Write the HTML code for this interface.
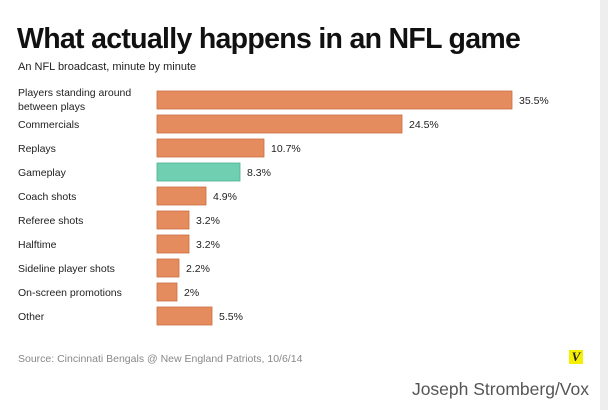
<!DOCTYPE html>
<html><head><meta charset="utf-8"><style>
body{margin:0;width:608px;height:410px;background:#fff;overflow:hidden;font-family:"Liberation Sans",sans-serif;position:relative}
.t{position:absolute;white-space:nowrap}
</style></head><body>
<div style="position:absolute;left:600px;top:0;width:8px;height:410px;background:#eee"></div>
<div class="t" style="left:17px;top:23px;font-size:28.5px;font-weight:900;letter-spacing:-0.7px;color:#111">What actually happens in an NFL game</div>
<div class="t" style="left:18px;top:61px;font-size:11px;color:#222">An NFL broadcast, minute by minute</div>
<svg id="c" width="608" height="410" style="position:absolute;left:0;top:0"></svg>
<div class="t" style="left:18px;top:353px;font-size:10.5px;color:#888">Source: Cincinnati Bengals @ New England Patriots, 10/6/14</div>
<div class="t" style="left:569px;top:350px;width:14px;height:14px;background:#f4f000;color:#222;font:italic bold 13px 'Liberation Serif',serif;text-align:center;line-height:14px">V</div>
<div class="t" style="right:19px;top:379px;font-size:17.5px;color:#555">Joseph Stromberg/Vox</div>
<script>
const categories=["Players standing around|between plays","Commercials","Replays","Gameplay","Coach shots","Referee shots","Halftime","Sideline player shots","On-screen promotions","Other"];
const values=[35.5,24.5,10.7,8.3,4.9,3.2,3.2,2.2,2,5.5];
const valueLabels=["35.5%","24.5%","10.7%","8.3%","4.9%","3.2%","3.2%","2.2%","2%","5.5%"];
const highlight=[false,false,false,true,false,false,false,false,false,false];
const svg=document.getElementById('c'),NS='http://www.w3.org/2000/svg';
const x=v=>157+v*10, y=i=>100+i*24;
categories.forEach((c,i)=>{
 const r=document.createElementNS(NS,'rect');
 r.setAttribute('x',157);r.setAttribute('y',y(i)-9);r.setAttribute('width',x(values[i])-157);r.setAttribute('height',18);
 r.setAttribute('fill',highlight[i]?'#6fcfb0':'#e58c5e');r.setAttribute('stroke',highlight[i]?'#4fb08f':'#c96e40');r.setAttribute('stroke-width','0.8');
 
 
 svg.appendChild(r);
 const lines=c.split('|');
 lines.forEach((l,k)=>{
  const t=document.createElementNS(NS,'text');
  t.setAttribute('x',18);t.setAttribute('y',(lines.length>1?y(i)-4+k*14:y(i)+4));
  t.setAttribute('font-size','10.5');t.setAttribute('fill','#222');t.textContent=l;
  
  
  svg.appendChild(t);
 });
 const v=document.createElementNS(NS,'text');
 v.setAttribute('x',x(values[i])+7);v.setAttribute('y',y(i)+4);v.setAttribute('font-size','10.5');v.setAttribute('fill','#222');v.textContent=valueLabels[i];
 
 
 svg.appendChild(v);
});
</script>
</body></html>
